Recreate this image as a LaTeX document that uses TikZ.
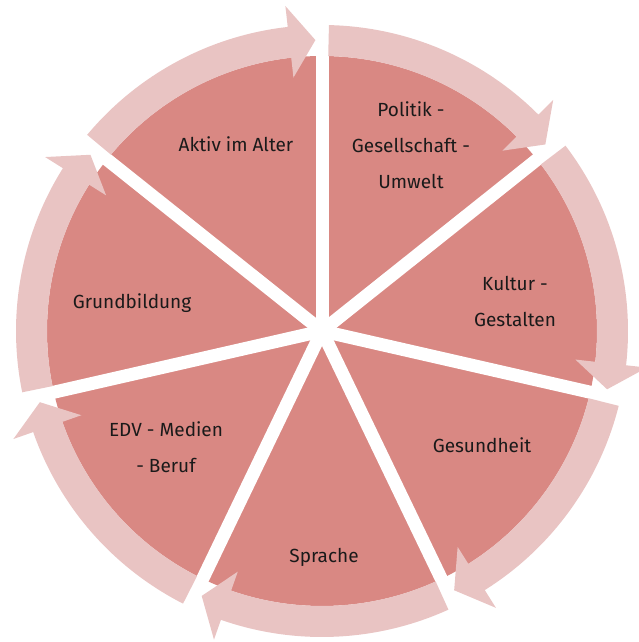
\documentclass[tikz,border=0pt]{standalone}
\usepackage{fontspec}
\setmainfont{Fira Sans}
\definecolor{pieRed}{RGB}{217,136,131}
\definecolor{arrowPink}{RGB}{233,196,195}
\definecolor{labelInk}{RGB}{26,26,26}

\begin{document}
\begin{tikzpicture}[x=1pt,y=1pt,
    lbl/.style={text=labelInk, align=center, font=\fontsize{19}{36}\selectfont}]
    \useasboundingbox (0,0) rectangle (638,642);
    \coordinate (c) at (322,311);
    % pie with white gaps
    \fill[pieRed] (c) circle (275pt);
    \foreach \b in {90,141.43,192.86,244.29,295.71,347.14,398.57}
        \draw[white, line width=13pt] (c) -- ++(\b:277pt);
    % clockwise arrows round the pie
    \foreach \b in {90,141.43,192.86,244.29,295.71,347.14,398.57}
        \fill[arrowPink, shift={(c)}] ({\b-1.3}:306pt)
            arc[start angle=\b-1.3, end angle=\b-45, radius=306pt]
            -- ({\b-45}:327pt) -- ({\b-50.13}:291pt) -- ({\b-45}:255pt)
            -- ({\b-45}:275pt)
            arc[start angle=\b-45, end angle=\b-1.3, radius=275pt] -- cycle;
    \node[lbl] (aktiv) at (236,498) {Aktiv im Alter};
    \node[lbl] (politik) at (411,497) {Politik -\\Gesellschaft -\\Umwelt};
    \node[lbl] (kultur) at (515,341) {Kultur -\\Gestalten};
    \node[lbl] (gesundheit) at (482,197) {Gesundheit};
    \node[lbl] (sprache) at (324,85) {Sprache};
    \node[lbl] (edv) at (166,195) {EDV - Medien\\- Beruf};
    \node[lbl] (grund) at (132,339) {Grundbildung};
\end{tikzpicture}
\end{document}
